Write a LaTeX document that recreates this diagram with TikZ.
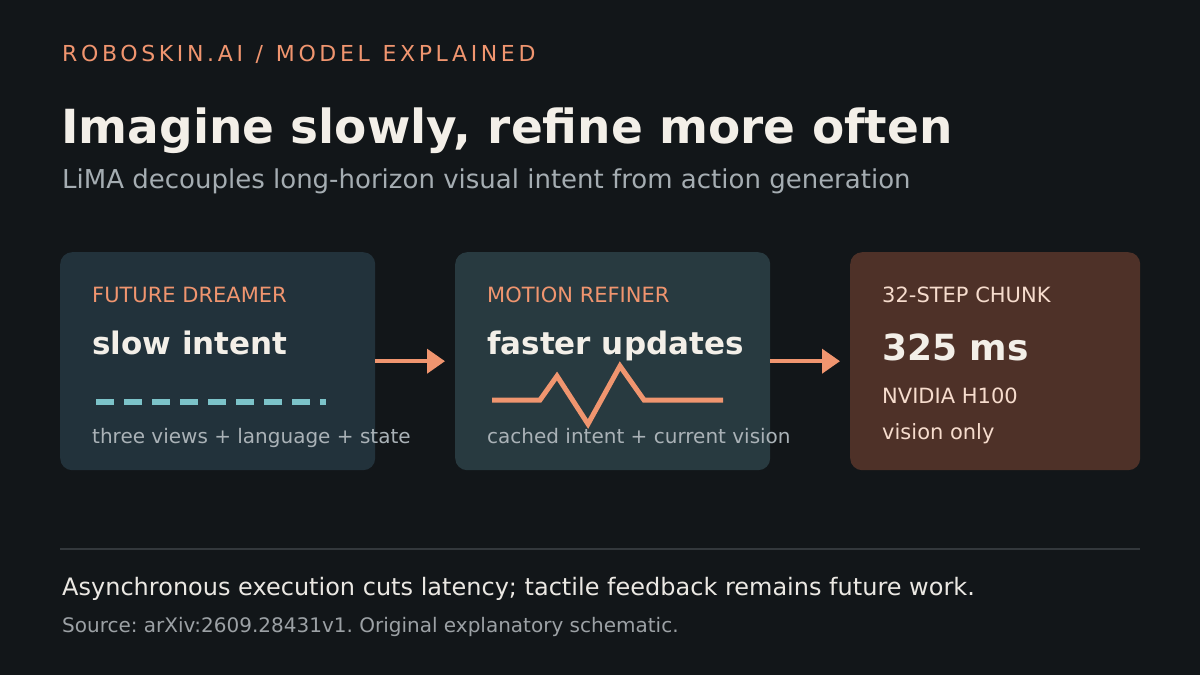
\documentclass[tikz,border=0pt]{standalone}
\usepackage{fontspec}
\setmainfont{DejaVu Sans}
\newfontfamily\kickerfont[LetterSpace=16.5,WordSpace=1.2]{DejaVu Sans}
\usetikzlibrary{arrows.meta}
\frenchspacing

\definecolor{bgcol}{HTML}{121619}
\definecolor{dreamercol}{HTML}{22323B}
\definecolor{refinercol}{HTML}{283A40}
\definecolor{chunkcol}{HTML}{4E3128}
\definecolor{accent}{HTML}{F0956F}
\definecolor{tealcol}{HTML}{7CC3C9}
\definecolor{ink}{HTML}{F3EFE8}
\definecolor{mutedcol}{HTML}{A5ADB2}
\definecolor{desccol}{HTML}{AAB2B7}
\definecolor{peach}{HTML}{F6DCCD}
\definecolor{rulecol}{HTML}{33383C}
\definecolor{notecol}{HTML}{EBE8E3}
\definecolor{sourcecol}{HTML}{9CA1A5}

\newcommand{\fsz}[1]{\fontsize{#1}{#1}\selectfont}

\tikzset{
  card/.style={rounded corners=12, inner sep=0pt, minimum height=218, anchor=north west},
  txt/.style={anchor=base west, inner sep=0pt},
  flow/.style={draw=accent, line width=4, -{Triangle[length=18pt,width=24pt]}, shorten >=10}
}

\begin{document}
\begin{tikzpicture}[x=1pt,y=1pt,yscale=-1,xscale=1]
% Background
\fill [bgcol] (0,0) rectangle (1200,675);

% Header
\draw (62,61) node (kicker) [txt] {\kickerfont\fsz{22}\color{accent}ROBOSKIN.AI / MODEL EXPLAINED};
% Title
\draw (61,143) node (title) [txt] {\fsz{47}\bfseries\color{ink}Imagine slowly, refine more often};
% Subtitle
\draw (62,188) node (subtitle) [txt] {\fsz{26}\color{mutedcol}LiMA decouples long-horizon visual intent from action generation};

% Cards
\draw (60,252) node (dreamer) [card, fill=dreamercol, minimum width=315] {};
\draw (455,252) node (refiner) [card, fill=refinercol, minimum width=315] {};
\draw (850,252) node (chunk) [card, fill=chunkcol, minimum width=290] {};

% Text Node
\draw (92,302) node (dreamerlabel) [txt] {\fsz{21}\color{accent}FUTURE DREAMER};
% Text Node
\draw (92,354) node (dreamermain) [txt] {\fsz{31}\bfseries\color{ink}slow intent};
% Text Node
\draw (92,443) node (dreamerdesc) [txt] {\fsz{20}\color{desccol}three views + language + state};
% Dashes
\draw [tealcol, line width=6, dash pattern=on 18pt off 10pt] (96,401.5) -- (326,401.5);

% Text Node
\draw (487,302) node (refinerlabel) [txt] {\fsz{21}\color{accent}MOTION REFINER};
% Text Node
\draw (487,354) node (refinermain) [txt] {\fsz{31}\bfseries\color{ink}faster updates};
% Text Node
\draw (487,443) node (refinerdesc) [txt] {\fsz{20}\color{desccol}cached intent + current vision};
% Zigzag
\draw [accent, line width=5, line join=miter] (492,400) -- (540,400) -- (557,376) -- (588,424) -- (620,366) -- (644,400) -- (723,400);

% Text Node
\draw (882,302) node (chunklabel) [txt] {\fsz{21}\color{peach}32-STEP CHUNK};
% Text Node
\draw (882,360) node (chunkmain) [txt] {\fsz{36}\bfseries\color{ink}325 ms};
% Text Node
\draw (882,403) node (chunkgpu) [txt] {\fsz{21}\color{peach}NVIDIA H100};
% Text Node
\draw (882,439) node (chunkmode) [txt] {\fsz{21}\color{peach}vision only};

% Connection
\draw [flow] (dreamer) -- (refiner);
% Connection
\draw [flow] (refiner) -- (chunk);

% Divider
\draw [rulecol, line width=2] (60,549) -- (1140,549);
% Text Node
\draw (62,595) node (note) [txt] {\fsz{24}\color{notecol}Asynchronous execution cuts latency; tactile feedback remains future work.};
% Text Node
\draw (62,632) node (source) [txt] {\fsz{20}\color{sourcecol}Source: arXiv:2609.28431v1. Original explanatory schematic.};
\end{tikzpicture}
\end{document}
